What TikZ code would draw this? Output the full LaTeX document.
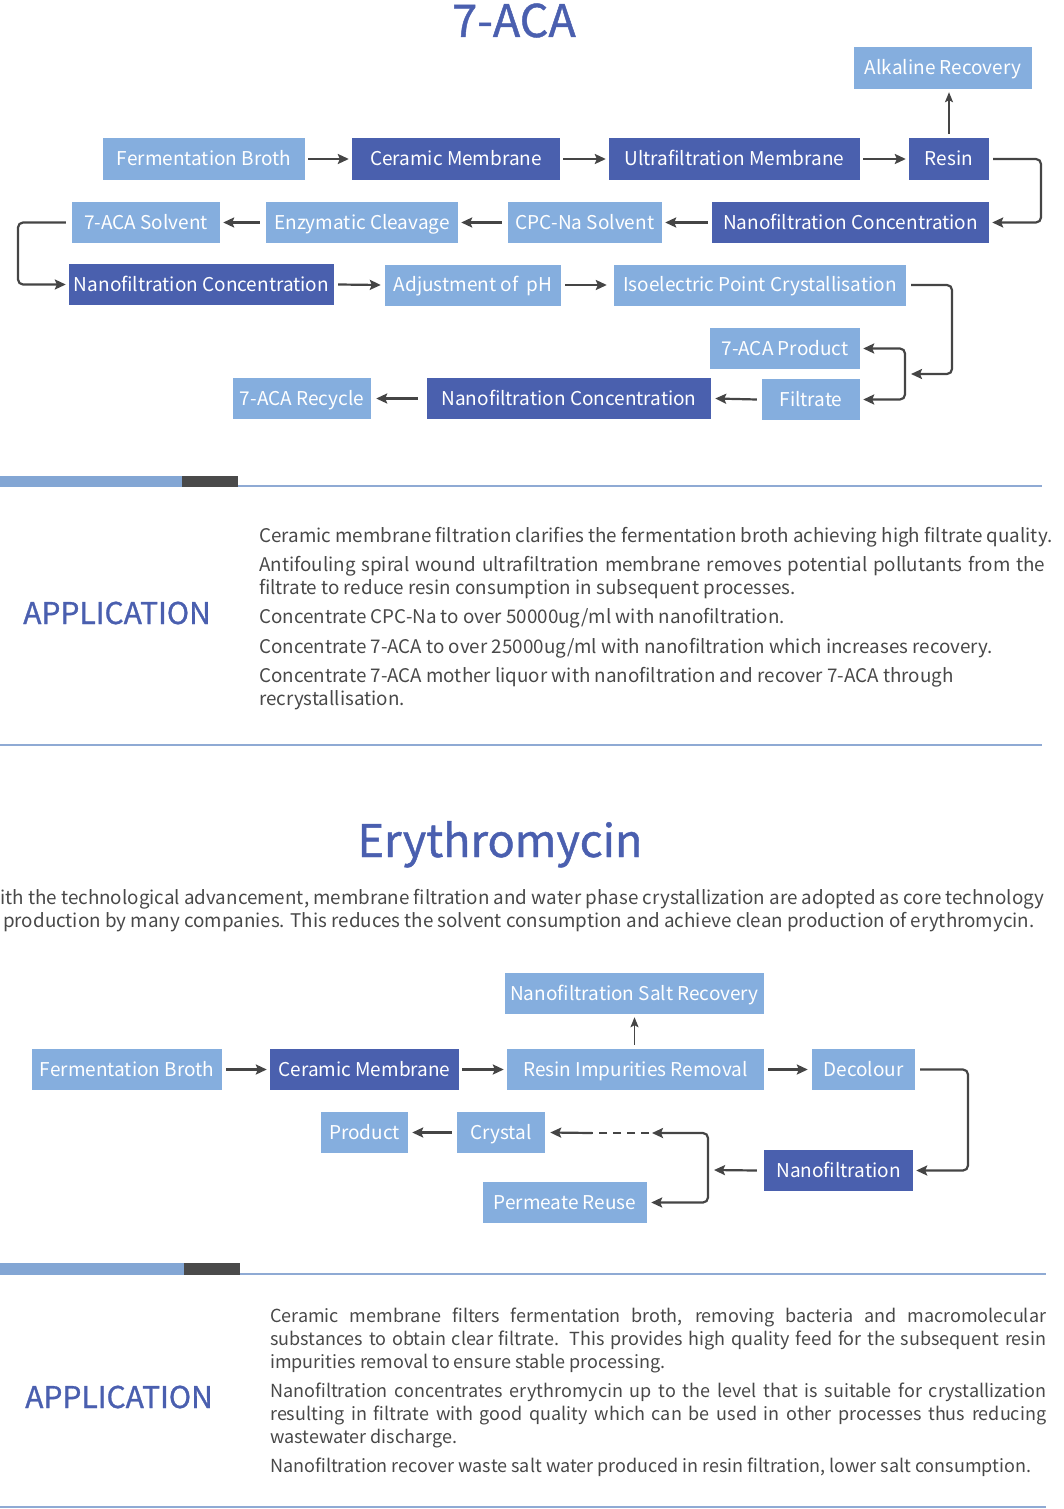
\documentclass[tikz,border=0pt]{standalone}
\usepackage{fontspec}
\setmainfont{Noto Sans CJK SC}
\newfontfamily\titlefont[FakeBold=1]{Noto Sans CJK SC}
\usetikzlibrary{arrows.meta}
\definecolor{lb}{HTML}{85AEDE}
\definecolor{db}{HTML}{4A60AE}
\definecolor{tb}{HTML}{4A5FAF}
\definecolor{ar}{HTML}{454545}
\definecolor{tx}{HTML}{484848}
\definecolor{ln}{HTML}{8FAAD4}
\definecolor{barA}{HTML}{83A6D4}
\definecolor{barB}{HTML}{4A4A4A}
\tikzset{
  tip/.tip={Stealth[length=11pt,width=10pt,inset=2pt]},
  boxbase/.style={inner sep=0pt, text=white, font=\fontsize{19}{22}\selectfont, anchor=center, text height=16pt, text depth=3pt},
  lbox/.style={boxbase, fill=lb},
  dbox/.style={boxbase, fill=db},
  flow/.style={draw=ar, line width=2.2pt, -tip, rounded corners=5pt},
  upflow/.style={draw=ar, line width=1.6pt, -{Stealth[length=10pt,width=8pt,inset=2pt]}},
  bflow/.style={draw=ar, line width=2.2pt, tip-tip, rounded corners=5pt},
  dashline/.style={draw=ar, line width=2.2pt, dash pattern=on 8pt off 6pt},
  body/.style={anchor=base west, inner sep=0pt, text=tx, font=\fontsize{18.8}{22}\selectfont},
  bodyb/.style={anchor=base west, inner sep=0pt, text=tx, font=\fontsize{18}{22}\selectfont},
  apptitle/.style={anchor=center, inner sep=0pt, text=tb, font=\titlefont\fontsize{30}{34}\selectfont},
  bigtitle/.style={anchor=base, inner sep=0pt, text=tb, font=\titlefont\fontsize{45}{50}\selectfont},
}
\begin{document}
\begin{tikzpicture}[x=1pt,y=-1pt]
\useasboundingbox (0,0) rectangle (1064,1509);
% ---------- 7-ACA ----------
\node[bigtitle] (t1) at (514,37) {7-ACA};
\node[lbox, minimum width=202, minimum height=42] (fb1) at (204,159) {Fermentation Broth};
\node[dbox, minimum width=208, minimum height=42] (cm1) at (456,159) {Ceramic Membrane};
\node[dbox, minimum width=251, minimum height=42] (uf1) at (734.5,159) {Ultrafiltration Membrane};
\node[dbox, minimum width=80, minimum height=42] (rs1) at (949,159) {Resin};
\node[lbox, minimum width=178, minimum height=42] (ar1) at (943,68) {Alkaline Recovery};
\node[dbox, minimum width=277, minimum height=41] (nf1) at (850.5,222.5) {Nanofiltration Concentration};
\node[lbox, minimum width=154, minimum height=41] (cpc) at (585,222.5) {CPC-Na Solvent};
\node[lbox, minimum width=192, minimum height=41] (enz) at (362,222.5) {Enzymatic Cleavage};
\node[lbox, minimum width=148, minimum height=41] (sol) at (146,222.5) {7-ACA Solvent};
\node[dbox, minimum width=265, minimum height=41] (nf2) at (201.5,284.5) {Nanofiltration Concentration};
\node[lbox, minimum width=176, minimum height=41] (ph) at (473,285) {Adjustment of\ \ pH};
\node[lbox, minimum width=292, minimum height=41] (iso) at (760,285) {Isoelectric Point Crystallisation};
\node[lbox, minimum width=150, minimum height=41] (prod) at (785,348.5) {7-ACA Product};
\node[lbox, minimum width=98, minimum height=41] (filt) at (811,399.5) {Filtrate};
\node[dbox, minimum width=284, minimum height=41] (nf3) at (569,398.5) {Nanofiltration Concentration};
\node[lbox, minimum width=138, minimum height=41] (rec) at (302,398.5) {7-ACA Recycle};

\coordinate (c1) at (1041,0);
\coordinate (c2) at (18,0);
\coordinate (c3) at (952,0);
\coordinate (c4) at (905,0);
\coordinate (j1) at (911,374);

\draw[flow] ([xshift=3pt]fb1.east) -- ([xshift=-3pt]cm1.west);
\draw[flow] ([xshift=3pt]cm1.east) -- ([xshift=-3pt]uf1.west);
\draw[flow] ([xshift=3pt]uf1.east) -- ([xshift=-3pt]rs1.west);
\draw[upflow] ([yshift=4pt]rs1.north) -- ([yshift=-3pt]rs1.north |- ar1.south);
\draw[flow] ([xshift=4pt]rs1.east) -- (rs1.east -| c1) -- (nf1.east -| c1) -- ([xshift=3pt]nf1.east);
\draw[flow] ([xshift=-4pt]nf1.west) -- ([xshift=3pt]cpc.east);
\draw[flow] ([xshift=-6pt]cpc.west) -- ([xshift=3pt]enz.east);
\draw[flow] ([xshift=-6pt]enz.west) -- ([xshift=3pt]sol.east);
\draw[flow] ([xshift=-6pt]sol.west) -- (sol.west -| c2) -- (nf2.west -| c2) -- ([xshift=-3pt]nf2.west);
\draw[flow] ([xshift=4pt]nf2.east) -- ([xshift=-4pt]ph.west);
\draw[flow] ([xshift=4pt]ph.east) -- ([xshift=-7pt]iso.west);
\draw[flow] ([xshift=5pt]iso.east) -- (iso.east -| c3) -- (c3 |- j1) -- (j1);
\draw[bflow] ([xshift=3pt]prod.east) -- (prod.east -| c4) -- (filt.east -| c4) -- ([xshift=3pt]filt.east);
\draw[flow] ([xshift=-5pt]filt.west) -- ([xshift=4pt]nf3.east);
\draw[flow] ([xshift=-9pt]nf3.west) -- ([xshift=5pt]rec.east);

% separator 1
\fill[barA] (0,476) rectangle (182,487);
\fill[barB] (182,476) rectangle (238,487);
\draw[ln, line width=1.5pt] (238,486) -- (1042,486);

\node[apptitle] (ap1) at (117,613) {APPLICATION};
\node[body] (a1l1) at (259,542) {Ceramic membrane filtration clarifies the fermentation broth achieving high filtrate quality.};
\node[body] (a1l2) at (259,571) {\makebox[786pt][s]{Antifouling spiral wound ultrafiltration membrane removes potential pollutants from the}};
\node[body] (a1l3) at (259,594) {filtrate to reduce resin consumption in subsequent processes.};
\node[body] (a1l4) at (259,623) {Concentrate CPC-Na to over 50000ug/ml with nanofiltration.};
\node[body] (a1l5) at (259,653) {Concentrate 7-ACA to over 25000ug/ml with nanofiltration which increases recovery.};
\node[body] (a1l6) at (259,682) {Concentrate 7-ACA mother liquor with nanofiltration and recover 7-ACA through};
\node[body] (a1l7) at (259,705) {recrystallisation.};
\draw[ln, line width=2pt] (0,745) -- (1042,745);

% ---------- Erythromycin ----------
\node[bigtitle] (t2) at (500,857) {Erythromycin};
\node[body] (in1) at (0,904) {ith the technological advancement, membrane filtration and water phase crystallization are adopted as core technology};
\node[body] (in2) at (3,927) {production by many companies. This reduces the solvent consumption and achieve clean production of erythromycin.};

\node[lbox, minimum width=259, minimum height=41] (salt) at (634.5,993.5) {Nanofiltration Salt Recovery};
\node[lbox, minimum width=190, minimum height=41] (fb2) at (127,1069.5) {Fermentation Broth};
\node[dbox, minimum width=189, minimum height=41] (cm2) at (364.5,1069.5) {Ceramic Membrane};
\node[lbox, minimum width=257, minimum height=41] (res2) at (635.5,1069.5) {Resin Impurities Removal};
\node[lbox, minimum width=103, minimum height=41] (dec) at (863.5,1069.5) {Decolour};
\node[dbox, minimum width=149, minimum height=41] (nf4) at (838.5,1170.5) {Nanofiltration};
\node[lbox, minimum width=88, minimum height=41] (cry) at (501,1132.5) {Crystal};
\node[lbox, minimum width=87, minimum height=41] (prd) at (364.5,1132.5) {Product};
\node[lbox, minimum width=164, minimum height=41] (perm) at (565,1202.5) {Permeate Reuse};

\coordinate (c5) at (968,0);
\coordinate (c6) at (708,0);
\coordinate (j2) at (714,1170);
\coordinate (d1) at (652,1133);
\coordinate (d2) at (592,1133);

\draw[flow] ([xshift=4pt]fb2.east) -- ([xshift=-3pt]cm2.west);
\draw[flow] ([xshift=3pt]cm2.east) -- ([xshift=-3pt]res2.west);
\draw[flow] ([xshift=4pt]res2.east) -- ([xshift=-4pt]dec.west);
\draw[upflow] ([yshift=4pt]res2.north -| salt.south) -- ([yshift=-3pt]salt.south);
\draw[flow] ([xshift=5pt]dec.east) -- (dec.east -| c5) -- (nf4.east -| c5) -- ([xshift=3pt]nf4.east);
\draw[flow] ([xshift=-7pt]nf4.west) -- (j2);
\draw[bflow] (d1) -- (d1 -| c6) -- (perm.east -| c6) -- ([xshift=4pt]perm.east);
\draw[dashline] ([xshift=-3pt]d1) -- ([xshift=-6pt]d2);
\draw[flow] (d2) -- ([xshift=5pt]cry.east);
\draw[flow] ([xshift=-5pt]cry.west) -- ([xshift=4pt]prd.east);

% separator 2
\fill[barA] (0,1263) rectangle (184,1275);
\fill[barB] (184,1263) rectangle (240,1275);
\draw[ln, line width=1.5pt] (240,1274) -- (1046,1274);

\node[apptitle] (ap2) at (119,1397) {APPLICATION};
\node[bodyb] (a2l1) at (270,1322) {\makebox[776pt][s]{Ceramic membrane filters fermentation broth, removing bacteria and macromolecular}};
\node[bodyb] (a2l2) at (270,1345) {\makebox[776pt][s]{substances to obtain clear filtrate. This provides high quality feed for the subsequent resin}};
\node[bodyb] (a2l3) at (270,1368) {impurities removal to ensure stable processing.};
\node[bodyb] (a2l4) at (270,1397) {\makebox[776pt][s]{Nanofiltration concentrates erythromycin up to the level that is suitable for crystallization}};
\node[bodyb] (a2l5) at (270,1420) {\makebox[776pt][s]{resulting in filtrate with good quality which can be used in other processes thus reducing}};
\node[bodyb] (a2l6) at (270,1443) {wastewater discharge.};
\node[bodyb] (a2l7) at (270,1472) {Nanofiltration recover waste salt water produced in resin filtration, lower salt consumption.};
\draw[ln, line width=2pt] (0,1507) -- (1046,1507);
\end{tikzpicture}
\end{document}
